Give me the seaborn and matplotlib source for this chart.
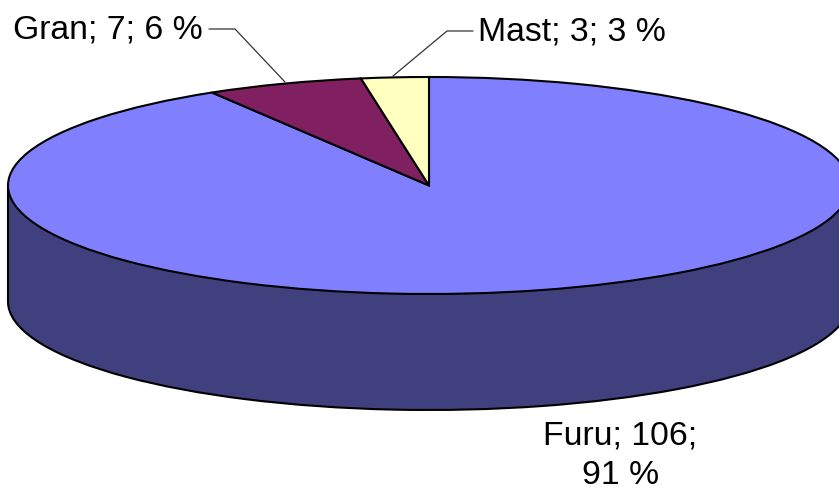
import matplotlib
matplotlib.use('Agg')
import matplotlib.pyplot as plt
import seaborn as sns

# Values
species = ['Furu', 'Gran', 'Mast']
counts = [106, 7, 3]
percents = [91, 6, 3]
top_colors = ['#8080FF', '#802060', '#FFFFC0']
side_colors = ['#40407E', '#40103F', '#80805F']

W, H = 839, 490
CX, CY = 429, 185.5   # pie centre in pixels
RX, RY = 421, 108.5   # pie radii in pixels
DEPTH = 116 / RY      # thickness of the disc in radius units

sns.set_theme(style='white')
plt.rcParams['font.family'] = ['Liberation Sans', 'DejaVu Sans']

fig = plt.figure(figsize=(W / 100, H / 100), dpi=100)
ax = fig.add_axes([0, 0, 1, 1])


def px(x, y):
    # pixel position -> axes data position
    return (x - CX) / RX, (CY - y) / RY


edge = {'edgecolor': 'black', 'linewidth': 1.5}

# Lower disc, the wall between the two discs, then the top
ax.pie(counts, colors=side_colors, startangle=90, counterclock=False,
       center=(0, -DEPTH), wedgeprops={**edge, 'zorder': 1})
ax.bar(0, DEPTH, width=2, bottom=-DEPTH, color=side_colors[0], linewidth=0, zorder=2)
ax.bar(0, 0.1, width=0.2, bottom=-DEPTH - 0.05, color=side_colors[0], linewidth=0, zorder=2)
ax.plot([-1, -1], [0, -DEPTH], color='black', lw=1.5, zorder=3)
ax.plot([1, 1], [0, -DEPTH], color='black', lw=1.5, zorder=3)
ax.pie(counts, colors=top_colors, startangle=90, counterclock=False,
       wedgeprops={**edge, 'zorder': 4})

ax.set_aspect('auto')
ax.set_xlim(px(0, 0)[0], px(W, 0)[0])
ax.set_ylim(px(0, H)[1], px(0, 0)[1])
ax.axis('off')

# Leader lines
for pts in ([(209, 29), (235, 29), (285, 82)], [(473, 31), (447, 31), (393, 76)]):
    xs, ys = zip(*[px(*p) for p in pts])
    ax.plot(xs, ys, color='#333333', lw=0.9, zorder=5, solid_joinstyle='miter')

# Data labels
fs = 24.3
labels = [f'{s}; {c}; {p} %' for s, c, p in zip(species, counts, percents)]
ax.text(*px(108, 30), labels[1], fontsize=fs, color='black', ha='center', va='center', zorder=6)
ax.text(*px(572, 32), labels[2], fontsize=fs, color='black', ha='center', va='center', zorder=6)
ax.text(*px(620.5, 456), f'{species[0]}; {counts[0]};\n{percents[0]} %', fontsize=fs, color='black',
        ha='center', va='center', linespacing=1.36, zorder=6)

fig.savefig('out.png', dpi=100)
